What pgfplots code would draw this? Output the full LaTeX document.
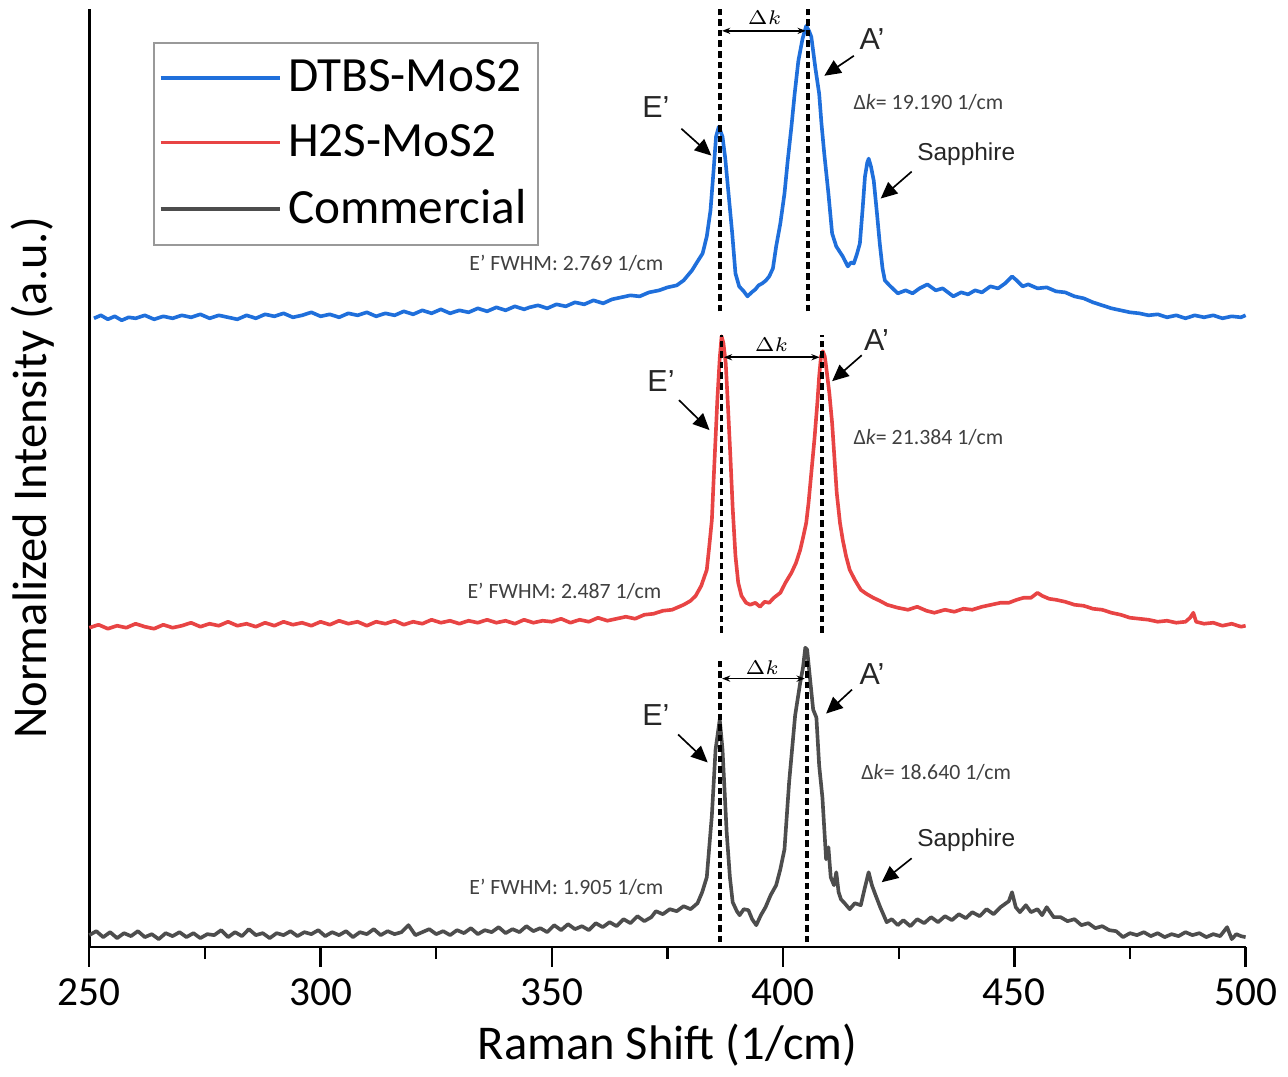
\documentclass[border=0pt]{standalone}
\usepackage{fontspec}
\setmainfont{Carlito}
\newfontfamily\arialf{Liberation Sans}
\usepackage{pgfplots}
\pgfplotsset{compat=1.18}
\usetikzlibrary{arrows.meta}

\definecolor{dtbs}{RGB}{31,111,219}
\definecolor{htwos}{RGB}{232,68,68}
\definecolor{comm}{RGB}{77,77,77}
\definecolor{note}{RGB}{64,64,64}

\tikzset{
  vline/.style = {black, line width=1.1pt, dash pattern=on 2pt off 1.2pt},
  pk/.style    = {-{Triangle[length=5pt,width=4.5pt]}, line width=0.5pt},
  dk/.style    = {{Stealth[length=2.5pt]}-{Stealth[length=2.5pt]}, line width=0.45pt},
  lbl/.style   = {font=\arialf\fontsize{9.2}{11}\selectfont, text=black!85},
  sap/.style   = {font=\arialf\fontsize{7.4}{9}\selectfont, text=black!85},
  sml/.style   = {font=\fontsize{6.6}{8}\selectfont, text=note},
  dkl/.style   = {font=\fontsize{6.3}{7}\selectfont}
}

\begin{document}
\begin{tikzpicture}
\begin{axis}[
  scale only axis,
  width=350pt, height=284pt,
  xmin=250, xmax=500, ymin=0, ymax=940,
  axis lines*=left,
  axis line style={line width=0.8pt},
  xtick={250,300,...,500},
  minor xtick={275,325,...,475},
  xtick align=outside,
  major tick length=6pt, minor tick length=3.6pt,
  tick style={black, line width=0.7pt},
  ytick=\empty,
  /pgf/number format/assume math mode=true,
  xticklabel style={font=\fontsize{12.5}{14}\selectfont},
  xlabel={Raman Shift (1/cm)},
  ylabel={Normalized Intensity (a.u.)},
  xlabel style={font=\fontsize{14.7}{17}\selectfont, at={(axis description cs:0.5,-0.104)}, anchor=center},
  ylabel style={font=\fontsize{14.7}{17}\selectfont, at={(axis description cs:-0.049,0.5)}, anchor=center},
  legend style={at={(rel axis cs:0.055,0.965)}, anchor=north west, draw=gray!80,
    line width=0.6pt, font=\fontsize{14.9}{17}\selectfont,
    inner xsep=1.5pt, inner ysep=3pt, row sep=4.5pt, cells={anchor=west}},
  legend image code/.code={\draw[#1] (0pt,0pt) -- (36pt,0pt);},
  every axis plot/.append style={line width=1.1pt, line join=round},
  clip=false
]
% DTBS-MoS2
\addplot[dtbs] coordinates {
(251,630) (252.5,633) (254,629) (255.5,632) (257,628) (258.5,631) (260,630) (262,633) (264,629) (266,632)
(268,630) (270,633) (272,631) (274,634) (276,630) (278,633) (280,631) (282,629) (284,633) (286,630)
(288,634) (290,632) (292,635) (294,631) (296,633) (298,636) (300,632) (302,634) (304,631) (306,635)
(308,633) (310,636) (312,632) (314,635) (316,633) (318,637) (320,634) (322,638) (324,635) (326,639)
(328,635) (330,638) (332,636) (334,640) (336,637) (338,641) (340,638) (342,642) (344,639) (345.2,641)
(347,643) (349,640) (351,644) (353,642) (355,646) (357,644) (359,648) (361.1,645) (363,649) (365,651)
(367,653) (369,652) (371,656) (373.2,658) (375,661) (377,663) (378.5,668) (380.3,678) (381.5,687) (382.6,695)
(383.5,712) (384.3,738) (385,780) (385.5,812) (386.1,822) (386.9,812) (387.5,790) (388.2,755) (389,715) (389.7,675)
(390.5,662) (391.5,657) (392.3,652) (393.2,656) (394,659) (394.7,663) (395.5,665) (396.3,668) (397,672) (397.8,680)
(398.5,702) (399.4,725) (400.3,755) (401,788) (401.8,822) (402.5,855) (403.3,888) (404.2,910) (405,923) (405.6,918)
(406.1,912) (407,880) (407.8,855) (408.3,825) (408.9,795) (409.8,755) (410.6,715) (411.5,702) (412.9,692) (414,682)
(414.7,686) (415.3,685) (416,695) (416.6,705) (417.2,740) (417.7,772) (418.2,786) (418.5,790) (419,782) (419.6,768)
(420.3,735) (420.9,705) (421.5,680) (422,668) (423,663) (424.8,655) (426.5,658) (428,655) (429.5,660) (431.2,664)
(433,658) (434.5,660) (436.8,652) (438.5,656) (440,654) (441.5,658) (443,656) (444.8,662) (446.5,660) (448,665)
(449.5,672) (450.5,668) (451.8,662) (453,664) (455,660) (457,661) (459,657) (461,656) (463,652) (465,650)
(467,646) (469,643) (471,640) (473,638) (475,636) (477,635) (479,633) (481,634) (483,631) (485,633)
(487,630) (489,633) (491,631) (493,633) (495,630) (497,632) (499,631) (500,633)
};
\addlegendentry{DTBS-MoS2}
% H2S-MoS2
\addplot[htwos] coordinates {
(250,320) (252,323) (254,319) (256,322) (258,320) (260,324) (262,321) (264,319) (266,323) (268,320)
(270,322) (272,325) (274,321) (276,324) (278,322) (280,326) (282,322) (284,324) (286,321) (288,325)
(290,322) (292,326) (294,323) (296,325) (298,322) (300,326) (302,323) (304,327) (306,324) (308,326)
(310,322) (312,326) (314,324) (316,327) (318,323) (320,326) (322,324) (324,328) (326,325) (328,327)
(330,324) (332,327) (334,325) (336,328) (338,325) (340,327) (342,324) (344,328) (346,325) (348,327)
(350,326) (352,329) (354,325) (356,328) (358,326) (360,330) (362,327) (364,329) (366,331) (368,329)
(370,333) (372,334) (374,337) (376,338) (377,340) (378.5,343) (380,347) (381.1,352) (382.3,362) (383.5,378)
(384,400) (384.6,428) (385,470) (385.4,510) (385.8,550) (386.3,590) (386.7,612) (387.1,605) (387.6,585) (388.1,540)
(388.6,492) (389.1,440) (389.7,392) (390.3,365) (391,352) (392,345) (392.9,343) (394,345) (395,341) (396,346)
(397,345) (398,350) (399.4,355) (400.5,365) (401.8,375) (402.8,385) (403.7,398) (404.3,410) (405,425) (405.5,445)
(406.1,475) (406.8,510) (407.4,545) (407.8,572) (408.2,592) (408.6,597) (409,592) (409.3,582) (410,555) (410.6,525)
(411.1,490) (411.6,455) (412.3,425) (412.9,408) (413.6,392) (414.4,378) (415.5,368) (416.8,358) (418,354) (419.5,350)
(420.9,347) (422.5,343) (424.8,340) (427,338) (429,341) (431,337) (432.7,335) (435,338) (437,336) (439,339)
(440.9,338) (443,341) (445,343) (447,345) (448.8,345) (450.5,348) (452,350) (453.6,350) (455,355) (456,352)
(457.5,349) (459,348) (461,346) (463,343) (465,342) (467,339) (469,338) (471,335) (473,333) (475,330)
(477,329) (479,328) (481,326) (483,327) (485,325) (487,326) (488,330) (488.7,335) (489.3,326) (491,324)
(493,325) (495,322) (497,324) (499,321) (500,322)
};
\addlegendentry{H2S-MoS2}
% Commercial
\addplot[comm] coordinates {
(250,12) (251.5,16) (253,10) (254.5,15) (256,9) (257.5,14) (259,11) (260.5,16) (262,10) (263.5,13)
(265,8) (266.5,14) (268,11) (269.5,15) (271,10) (272.5,14) (274,9) (275.5,13) (277,12) (278.5,17)
(280,10) (281.5,15) (283,11) (284.5,18) (286,12) (287.5,14) (289,9) (290.5,14) (292,12) (293.5,16)
(295,11) (296.5,15) (298,13) (299.5,17) (301,11) (302.5,15) (304,12) (305.5,16) (307,10) (308.5,15)
(310,13) (311.5,18) (313,12) (314.5,16) (316,13) (317.5,15) (319,22) (320.5,12) (322,15) (323.5,18)
(325,13) (326.5,16) (328,12) (329.5,17) (331,14) (332.5,19) (334,13) (335.5,17) (337,15) (338.5,20)
(340,14) (341.5,18) (343,15) (344.5,21) (346,16) (347.5,19) (349,15) (350.5,22) (352,17) (353.5,23)
(355,18) (356.5,21) (358,17) (359.5,24) (361,20) (362.5,25) (364,21) (365.5,28) (367,24) (368.5,31)
(370,26) (371.5,30) (372.5,36) (374,33) (375.5,38) (377,36) (378.5,41) (380,38) (381.5,44) (382.5,55)
(383.5,70) (384.6,132) (385.4,198) (386.3,228) (386.9,198) (387.8,115) (388.5,70) (389.1,45) (390,36) (390.6,32)
(391.5,38) (392.5,37) (393.3,28) (394.2,22) (395.2,32) (396.2,40) (397.3,52) (398.5,62) (399.4,78) (400.3,98)
(401.3,165) (402.6,232) (403.7,265) (404.3,280) (404.8,300) (405.2,298) (405.8,270) (406.5,238) (407.2,230) (407.8,182)
(408.5,150) (409.3,88) (409.8,100) (410.3,70) (411,62) (411.5,75) (412,55) (412.5,48) (413.3,44) (414.4,38)
(415.5,44) (416.8,42) (417.7,60) (418.5,75) (419.2,62) (420,52) (421,40) (422.4,25) (423.5,28) (424.8,22)
(426,27) (427.5,21) (429,28) (430.5,24) (432,30) (433.5,25) (435,31) (436.5,27) (438,33) (439.5,29)
(440.9,35) (442.5,31) (444,38) (445.5,33) (447,40) (448.8,46) (449.5,55) (450.3,40) (451.2,35) (452.5,42)
(453.6,35) (455,38) (456,32) (457,40) (458.5,30) (460,30) (461.5,26) (463,28) (464.5,22) (466,24)
(467.5,19) (469,21) (470.5,17) (472,16) (473.5,10) (475,14) (476.5,12) (478,15) (479.5,11) (481,14)
(482.5,10) (484,13) (485.5,11) (487,15) (488.5,12) (490,14) (491.5,10) (493,13) (494.5,11) (496,20)
(497,8) (498,13) (499,11) (500,10)
};
\addlegendentry{Commercial}

% DTBS annotations
\draw[vline] (axis cs:386.3,637) -- (axis cs:386.3,940);
\draw[vline] (axis cs:405.4,637) -- (axis cs:405.4,940);
\draw[dk] (axis cs:386.8,918) -- (axis cs:404.9,918);
\node[dkl] at (axis cs:396,931) {$\Delta k$};
\node[lbl] at (axis cs:372.5,842) {E’};
\draw[pk] (axis cs:378,820) -- (axis cs:384.5,793);
\node[lbl] at (axis cs:419.2,910) {A’};
\draw[pk] (axis cs:415.3,893) -- (axis cs:408.9,873);
\node[sml, anchor=west] at (axis cs:412.7,846) {Δ\textit{k}= 19.190 1/cm};
\node[sap] at (axis cs:439.6,794) {Sapphire};
\draw[pk] (axis cs:427.8,777) -- (axis cs:421.1,750);
\node[sml, anchor=east] at (axis cs:376.6,685) {E’ FWHM: 2.769 1/cm};

% H2S annotations
\draw[vline] (axis cs:386.7,315) -- (axis cs:386.7,613);
\draw[vline] (axis cs:408.4,315) -- (axis cs:408.4,613);
\draw[dk] (axis cs:387.2,591) -- (axis cs:407.9,591);
\node[dkl] at (axis cs:397.5,604) {$\Delta k$};
\node[lbl] at (axis cs:373.6,567) {E’};
\draw[pk] (axis cs:377.5,548) -- (axis cs:384.1,518);
\node[lbl] at (axis cs:420.2,608) {A’};
\draw[pk] (axis cs:417,593) -- (axis cs:410.6,567);
\node[sml, anchor=west] at (axis cs:412.7,511) {Δ\textit{k}= 21.384 1/cm};
\node[sml, anchor=east] at (axis cs:376.2,357) {E’ FWHM: 2.487 1/cm};

% Commercial annotations
\draw[vline] (axis cs:386.3,5) -- (axis cs:386.3,290);
\draw[vline] (axis cs:405.2,5) -- (axis cs:405.2,290);
\draw[dk] (axis cs:386.8,269) -- (axis cs:404.7,269);
\node[dkl] at (axis cs:395.5,280) {$\Delta k$};
\node[lbl] at (axis cs:372.5,233) {E’};
\draw[pk] (axis cs:377.3,213) -- (axis cs:383.7,185);
\node[lbl] at (axis cs:419.2,274) {A’};
\draw[pk] (axis cs:414.9,258) -- (axis cs:409.3,234);
\node[sml, anchor=west] at (axis cs:414.4,175) {Δ\textit{k}= 18.640 1/cm};
\node[sap] at (axis cs:439.6,107) {Sapphire};
\draw[pk] (axis cs:427.8,89) -- (axis cs:421.3,65);
\node[sml, anchor=east] at (axis cs:376.6,60) {E’ FWHM: 1.905 1/cm};
\end{axis}
\end{tikzpicture}
\end{document}
